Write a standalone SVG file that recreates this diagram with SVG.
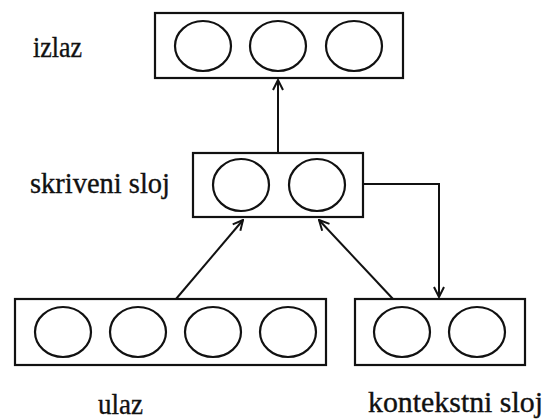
<svg xmlns="http://www.w3.org/2000/svg" width="546" height="419" viewBox="0 0 546 419">
<style>
.box{fill:#fff;stroke:#111;stroke-width:2.2}
.n{fill:none;stroke:#111;stroke-width:2.2}
.c{fill:none;stroke:#111;stroke-width:2}
text{font-family:'Liberation Serif','DejaVu Serif',serif;font-size:29px;fill:#111;stroke:#111;stroke-width:0.35}
</style>
<defs>
<marker id="ah" viewBox="0 0 12 12" refX="11" refY="6" markerWidth="12" markerHeight="12" markerUnits="userSpaceOnUse" orient="auto">
<path d="M1,1 L11,6 L1,11" fill="none" stroke="#111" stroke-width="2"/>
</marker>
</defs>
<rect width="546" height="419" fill="#fff"/>
<g id="connectors">
<line class="c" x1="278" y1="153" x2="278" y2="80" marker-end="url(#ah)"/>
<polyline class="c" points="363,184 439,184 439,297" marker-end="url(#ah)"/>
<line class="c" x1="176" y1="299" x2="243" y2="220" marker-end="url(#ah)"/>
<line class="c" x1="393" y1="299" x2="319" y2="220" marker-end="url(#ah)"/>
</g>
<g id="izlaz">
<rect class="box" x="155" y="13" width="248" height="65"/>
<ellipse class="n" cx="203" cy="46" rx="28" ry="25"/>
<ellipse class="n" cx="278" cy="46" rx="28" ry="25"/>
<ellipse class="n" cx="354" cy="46" rx="28" ry="25"/>
<text x="33" y="57" textLength="49" lengthAdjust="spacingAndGlyphs">izlaz</text>
</g>
<g id="skriveni">
<rect class="box" x="193" y="153" width="170" height="64"/>
<ellipse class="n" cx="241" cy="185" rx="28" ry="26"/>
<ellipse class="n" cx="317" cy="185" rx="28" ry="26"/>
<text x="30" y="193" textLength="140" lengthAdjust="spacingAndGlyphs">skriveni sloj</text>
</g>
<g id="ulaz">
<rect class="box" x="15" y="299" width="311" height="66"/>
<ellipse class="n" cx="63" cy="332" rx="28" ry="25"/>
<ellipse class="n" cx="138" cy="332" rx="28" ry="25"/>
<ellipse class="n" cx="213" cy="332" rx="28" ry="25"/>
<ellipse class="n" cx="288" cy="332" rx="28" ry="25"/>
<text x="98" y="414" textLength="45" lengthAdjust="spacingAndGlyphs">ulaz</text>
</g>
<g id="kontekstni">
<rect class="box" x="355" y="299" width="170" height="66"/>
<ellipse class="n" cx="402" cy="332" rx="28" ry="25"/>
<ellipse class="n" cx="477" cy="332" rx="28" ry="25"/>
<text x="368" y="412" textLength="175" lengthAdjust="spacingAndGlyphs">kontekstni sloj</text>
</g>
</svg>
